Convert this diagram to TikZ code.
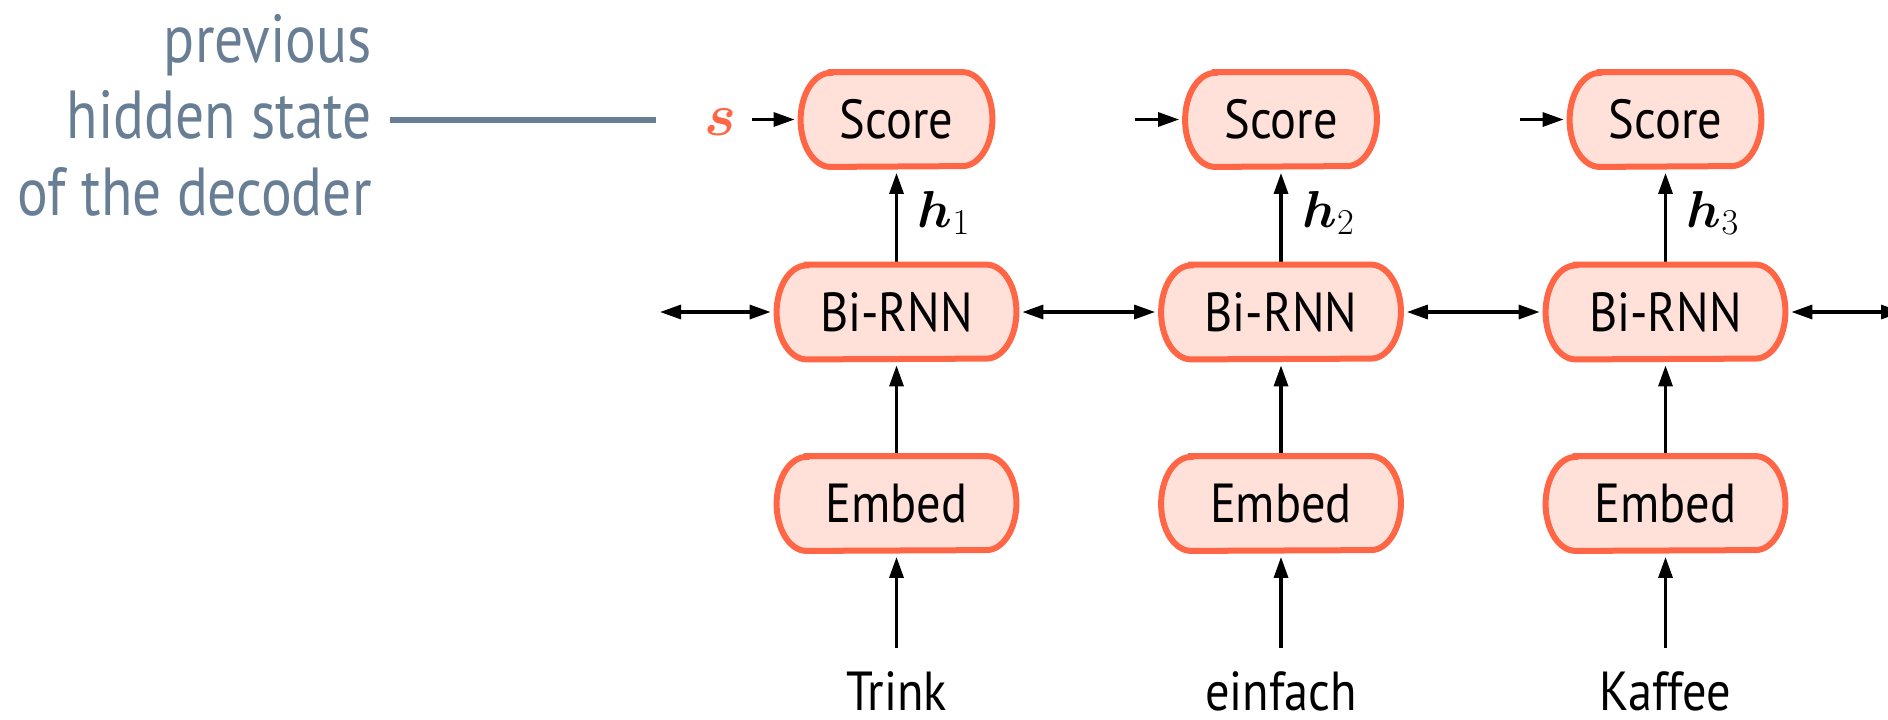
\RequirePackage{fix-cm}
\documentclass[tikz,border=0pt]{standalone}
\usepackage{amsmath,amsbsy}
\usepackage[no-math]{fontspec}
\newfontfamily\boxfont{PT Sans}[FakeStretch=0.88]
\newfontfamily\notefont{PT Sans}[FakeStretch=0.845]
\usetikzlibrary{arrows.meta,backgrounds}

\definecolor{boxline}{HTML}{FF6645}
\definecolor{boxfill}{HTML}{FFE1D9}
\definecolor{notegray}{HTML}{687E94}

\tikzset{
  unit/.style={inner sep=0pt, minimum height=47pt,
    font=\boxfont\fontsize{27.5}{32}\selectfont},
  wideunit/.style={unit, minimum width=119.5pt},
  scoreunit/.style={unit, minimum width=95.5pt},
  boxshape/.style={draw=boxline, fill=boxfill, line width=3pt},
  tip/.tip={Triangle[length=10.5pt,width=7pt]},
  flow/.style={line width=1.6pt, -tip, shorten >=3pt},
  twoway/.style={line width=1.6pt, tip-tip, shorten >=3pt, shorten <=3pt},
  word/.style={anchor=base, inner sep=0pt, text height=18pt, text depth=0pt,
    font=\boxfont\fontsize{27.5}{32}\selectfont},
  note/.style={anchor=base east, inner sep=0pt, text=notegray,
    font=\notefont\fontsize{34}{40}\selectfont},
  hlabel/.style={anchor=base west, inner sep=0pt, font=\fontsize{26}{30}\selectfont},
  noteline/.style={draw=notegray, line width=3pt}
}

% outline with half-elliptic ends around a node
\newcommand\pillaround[1]{%
  \path[boxshape] ([xshift=15pt]#1.north west) -- ([xshift=-15pt]#1.north east)
    arc[start angle=90, end angle=-90, x radius=15pt, y radius=23.5pt]
    -- ([xshift=15pt]#1.south west)
    arc[start angle=-90, end angle=-270, x radius=15pt, y radius=23.5pt]
    -- cycle;}

\begin{document}
\begin{tikzpicture}[x=0.5pt, y=-0.5pt]
  \useasboundingbox (0,0) rectangle (1888,719);

  % note on the left
  \node[note] (n1) at (372,62) {previous};
  \node[note] (n2) at (372,138.5) {hidden state};
  \node[note] (n3) at (372,215) {of the decoder};
  \coordinate (gl) at (390,119.5);
  \coordinate (gr) at (656,119.5);
  \draw[noteline] (gl) -- (gr);

  % decoder state
  \node[anchor=base, inner sep=0pt, text=boxline, font=\fontsize{30}{34}\selectfont]
    (s) at (720,135) {$\boldsymbol{s}$};

  % three encoder columns
  \foreach \i/\x/\w in {1/896.5/Trink, 2/1281/einfach, 3/1665.5/Kaffee} {
    \node[scoreunit] (sc\i) at (\x,119.5) {Score};
    \node[wideunit] (b\i) at (\x,312) {Bi-RNN};
    \node[wideunit] (e\i) at (\x,503.5) {Embed};
    \node[word] (w\i) at (\x,710) {\w};
    \node[hlabel] (h\i) at (\x+21,227) {$\boldsymbol{h}_{\i}$};
  }

  \coordinate (in1) at (752,119.5);
  \coordinate (in2) at (1135,119.5);
  \coordinate (in3) at (1520,119.5);
  \coordinate (lend) at (660,312);
  \coordinate (rend) at (1902,312);

  \begin{scope}[on background layer]
    \foreach \i in {1,2,3} {
      \draw[flow, shorten <=13pt] (w\i) -- (e\i.south);
      \draw[flow] (e\i.north) -- (b\i.south);
      \draw[flow] (b\i.north) -- (sc\i.south);
      \draw[flow] (in\i) -- (sc\i.west);
    }
    \draw[twoway, shorten <=0pt] (lend) -- (b1.west);
    \draw[twoway] (b1.east) -- (b2.west);
    \draw[twoway] (b2.east) -- (b3.west);
    \draw[twoway, shorten >=0pt] (b3.east) -- (rend);
    % box outlines over the connector ends
    \foreach \i in {1,2,3} {
      \pillaround{sc\i}
      \pillaround{b\i}
      \pillaround{e\i}
    }
  \end{scope}
\end{tikzpicture}
\end{document}
